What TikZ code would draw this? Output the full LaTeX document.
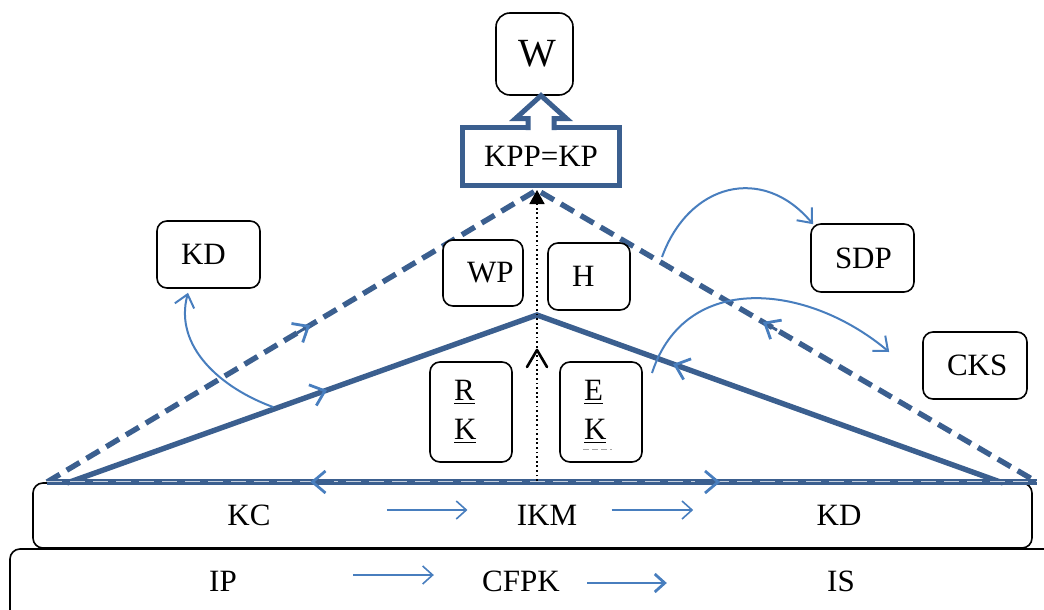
\documentclass[tikz,border=0pt]{standalone}
\usepackage{fontspec}
\setmainfont{Liberation Serif}
\usetikzlibrary{arrows.meta,calc}

\definecolor{edgeblue}{RGB}{59,95,143}
\definecolor{arcblue}{RGB}{72,126,190}

\tikzset{
    tag/.style={draw, fill=white, rounded corners=5pt, line width=0.8pt, inner xsep=12pt, inner ysep=0pt, align=left, font=\fontsize{15.5}{19.5}\selectfont},
    word/.style={inner sep=0pt, font=\fontsize{15.5}{18}\selectfont},
    layer/.style={draw, rounded corners=5pt, line width=0.8pt},
    side/.style={edgeblue, line width=2.7pt},
    dashside/.style={side, dash pattern=on 7.5pt off 4pt},
    barb/.style={edgeblue, line width=1.4pt, -{Straight Barb[length=6.5pt,width=11pt,color=arcblue]}},
    arc/.style={arcblue, line width=1pt, -{Straight Barb[length=6pt,width=10pt]}},
    thinflow/.style={arcblue, line width=0.8pt, -{Straight Barb[length=5pt,width=9pt]}},
}

\begin{document}
\begin{tikzpicture}[x=0.5pt, y=-0.5pt]
            \clip (0, 0) rectangle (1044, 610);
            %\draw[lightgray] (0, 0) grid[step=50] (1044, 610);
            \node[layer, minimum width=545pt, minimum height=46pt](lower) at (555, 595) {};
            \node[layer, minimum width=499.5pt, minimum height=32.5pt](upper) at (532.5, 515.5) {};

            \node[word](kc) at (249, 515) {KC};
            \node[word](ikm) at (547, 515) {IKM};
            \node[word](kdr) at (839, 515) {KD};
            \node[word](ip) at (223, 581) {IP};
            \node[word](cfpk) at (521, 581) {CFPK};
            \node[word](is) at (841, 581) {IS};

            \draw[thinflow, shorten <=58pt, shorten >=24.5pt] ([yshift=2.5pt]kc.east) -- ([yshift=2.5pt]ikm.west);
            \draw[thinflow, shorten <=17pt, shorten >=61.5pt] ([yshift=2.5pt]ikm.east) -- ([yshift=2.5pt]kdr.west);
            \draw[thinflow, shorten <=58pt, shorten >=24pt] ([yshift=3pt]ip.east) -- ([yshift=3pt]cfpk.west);
            \draw[thinflow, line width=1.4pt, shorten <=13.5pt, shorten >=80pt] ([yshift=-1pt]cfpk.east) -- ([yshift=-1pt]is.west);

            \coordinate (dl) at (47, 482);
            \coordinate (dt) at (537, 190);
            \coordinate (dr) at (1037, 482);
            \coordinate (sl) at (67, 483);
            \coordinate (st) at (537, 315);
            \coordinate (sr) at (1003, 483);
            \coordinate (foot) at (537, 481);

            \draw[dashside] (dl) -- (dt) -- (dr);
            \draw[side] (sl) -- (st) -- (sr);
            \draw[side] (dl) -- (dr);
            \draw[white!70!edgeblue, line width=0.5pt, dash pattern=on 7.5pt off 4pt] ([yshift=0.5pt]dl) -- ([yshift=0.5pt]dr);

            \draw[barb] ($(dl)!0.51!(dt)$) -- ($(dl)!0.537!(dt)$);
            \draw[barb] ($(sl)!0.52!(st)$) -- ($(sl)!0.553!(st)$);
            \draw[barb] ($(dr)!0.52!(dt)$) -- ($(dr)!0.548!(dt)$);
            \draw[barb] ($(sr)!0.68!(st)$) -- ($(sr)!0.708!(st)$);
            \draw[barb] ($(dl)!0.29!(dr)$) -- ($(dl)!0.266!(dr)$);
            \draw[barb] ($(dl)!0.655!(dr)$) -- ($(dl)!0.68!(dr)$);

            \draw[line width=0.9pt, dash pattern=on 0.9pt off 1.4pt, -{Triangle[length=7pt,width=7.5pt]}] (foot) -- (dt);
            \draw[line width=1.3pt, line cap=round, line join=round] (527, 367) -- (537, 350) -- (547, 367);

            \node[tag, text width=16pt, minimum height=33pt](wp) at (483, 273) {WP};
            \node[tag, text width=17pt, minimum height=33.5pt](h) at (589, 276.5) {H};
            \node[tag, text width=17pt, minimum height=50pt](rk) at (471, 412) {\underline{R}\\\underline{K}};
            \node[tag, text width=17pt, minimum height=50pt](ek) at (601, 412) {\underline{E}\\\underline{K}};
            \draw[gray!70, line width=0.4pt, dash pattern=on 3pt off 1.5pt] ([xshift=-9pt, yshift=-18.5pt]ek.center) -- ++(29, 0);

            \node[tag, text width=27.5pt, minimum height=33.5pt](kdl) at (208.5, 254.5) {KD};
            \node[tag, text width=27.5pt, minimum height=34pt](sdp) at (862.5, 258) {SDP};
            \node[tag, text width=28pt, minimum height=33.5pt](cks) at (975, 365.5) {CKS};

            \coordinate (kdfoot) at (273, 407);
            \coordinate (sdpfoot) at (662, 257);
            \coordinate (cksfoot) at (652, 373);
            \draw[arc] (kdfoot) to[out=160, in=-105] ([xshift=-10.25pt, yshift=-2pt]kdl.south);
            \draw[arc] (sdpfoot) to[out=70, in=130, looseness=1.3] ([xshift=-24.75pt, yshift=-0.5pt]sdp.north);
            \draw[arc] (cksfoot) to[out=72, in=140, looseness=1.15] ([xshift=-16.5pt, yshift=6.75pt]cks.west);

            \node[draw=edgeblue, fill=white, line width=2.5pt, outer sep=0pt, minimum width=78.5pt, minimum height=29pt, font=\fontsize{15.5}{18}\selectfont](kpp) at (541, 156.5) {KPP=KP};
            \node[tag, text width=16.5pt, minimum height=41pt, rounded corners=7pt, inner xsep=11pt, font=\fontsize{20}{23}\selectfont](w) at (534.5, 54) {W};
            \draw[edgeblue, line width=2.5pt, fill=white] ([xshift=-6.5pt, yshift=-1.3pt]kpp.north) -- ++(0, -11.5) -- ++(-12.5, 0) -- ++(25.5, -23) -- ++(25.5, 23) -- ++(-12.5, 0) -- ++(0, 11.5);
        \end{tikzpicture}
\end{document}
